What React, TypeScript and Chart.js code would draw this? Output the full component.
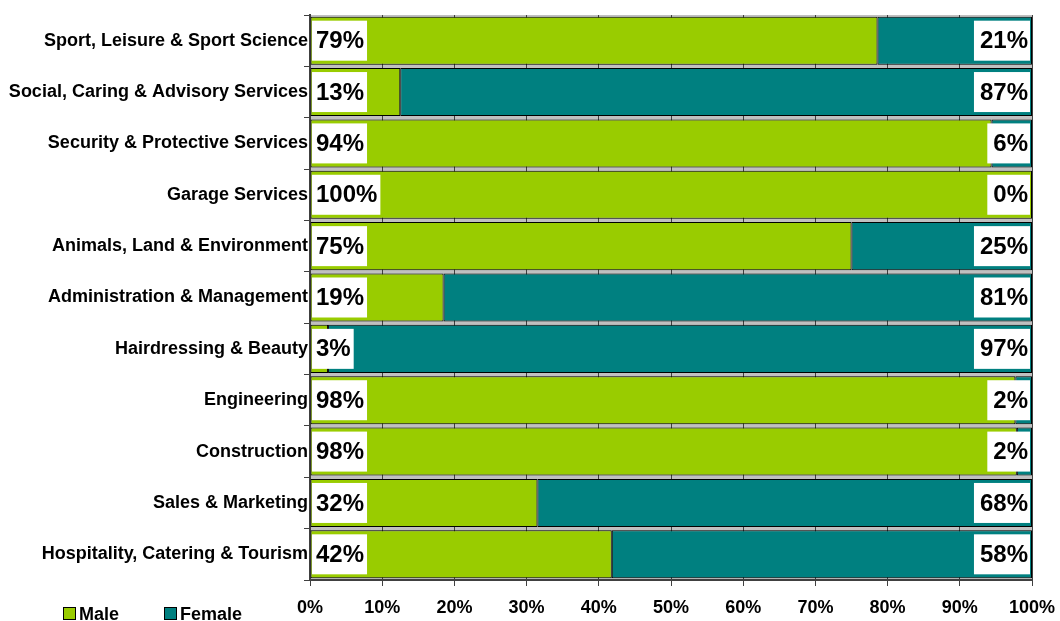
import React, { useEffect, useRef } from "react";
import { Chart, registerables } from "chart.js";

Chart.register(...registerables);

const categories = [
  "Sport, Leisure & Sport Science",
  "Social, Caring & Advisory Services",
  "Security & Protective Services",
  "Garage Services",
  "Animals, Land & Environment",
  "Administration & Management",
  "Hairdressing & Beauty",
  "Engineering",
  "Construction",
  "Sales & Marketing",
  "Hospitality, Catering & Tourism",
];

const maleValues = [78.6, 12.5, 94.4, 100, 75.0, 18.5, 2.5, 97.7, 97.9, 31.5, 41.8];
const femaleValues = [21.4, 87.5, 5.6, 0, 25.0, 81.5, 97.5, 2.3, 2.1, 68.5, 58.2];
const maleLabels = ["79%", "13%", "94%", "100%", "75%", "19%", "3%", "98%", "98%", "32%", "42%"];
const femaleLabels = ["21%", "87%", "6%", "0%", "25%", "81%", "97%", "2%", "2%", "68%", "58%"];
const xTicks = [0, 10, 20, 30, 40, 50, 60, 70, 80, 90, 100];

const FONT = '"Liberation Sans", Arial, Helvetica, sans-serif';
const MALE_COLOR = "#99CC00";
const FEMALE_COLOR = "#008080";

const plotBgPlugin = {
  id: "plotBg",
  beforeDraw(chart: any) {
    const { ctx, chartArea } = chart;
    ctx.save();
    ctx.fillStyle = "#C0C0C0";
    ctx.fillRect(chartArea.left, chartArea.top, chartArea.right - chartArea.left, chartArea.bottom - chartArea.top);
    ctx.restore();
  },
};

const valueLabelPlugin = {
  id: "valueLabels",
  afterDatasetsDraw(chart: any) {
    const { ctx, chartArea } = chart;
    ctx.save();
    ctx.font = `bold 24px ${FONT}`;
    ctx.textBaseline = "middle";
    const maleMeta = chart.getDatasetMeta(0);
    maleMeta.data.forEach((bar: any, i: number) => {
      const y = bar.y;
      const text = maleLabels[i];
      const w = ctx.measureText(text).width;
      const x0 = chartArea.left + 2;
      ctx.fillStyle = "#FFFFFF";
      ctx.fillRect(x0, y - 20, w + 7, 40);
      ctx.fillStyle = "#000000";
      ctx.textAlign = "left";
      ctx.fillText(text, x0 + 4, y + 1);
    });
    const femMeta = chart.getDatasetMeta(1);
    femMeta.data.forEach((bar: any, i: number) => {
      const y = bar.y;
      const text = femaleLabels[i];
      const w = ctx.measureText(text).width;
      const x1 = chartArea.right - 2;
      ctx.fillStyle = "#FFFFFF";
      ctx.fillRect(x1 - w - 8, y - 20, w + 8, 40);
      ctx.fillStyle = "#000000";
      ctx.textAlign = "right";
      ctx.fillText(text, x1 - 2, y + 1);
    });
    ctx.restore();
  },
};

const legendPlugin = {
  id: "customLegend",
  afterDraw(chart: any) {
    const { ctx } = chart;
    const items = [
      { label: "Male", color: MALE_COLOR, x: 63 },
      { label: "Female", color: FEMALE_COLOR, x: 164 },
    ];
    ctx.save();
    ctx.font = `bold 18px ${FONT}`;
    ctx.textBaseline = "middle";
    ctx.textAlign = "left";
    items.forEach((it) => {
      ctx.fillStyle = it.color;
      ctx.fillRect(it.x, 607, 12, 12);
      ctx.strokeStyle = "#000000";
      ctx.lineWidth = 1;
      ctx.strokeRect(it.x + 0.5, 607.5, 12, 12);
      ctx.fillStyle = "#000000";
      ctx.fillText(it.label, it.x + 16, 615);
    });
    ctx.restore();
  },
};

export default function App() {
  const canvasRef = useRef<HTMLCanvasElement | null>(null);

  useEffect(() => {
    document.body.style.margin = "0";
    const canvas = canvasRef.current;
    if (!canvas) return;
    const chart = new Chart(canvas, {
      type: "bar",
      data: {
        labels: categories,
        datasets: [
          {
            label: "Male",
            data: maleValues,
            backgroundColor: MALE_COLOR,
            borderColor: "#000000",
            borderWidth: 1,
            borderSkipped: false,
            barPercentage: 0.935,
            categoryPercentage: 1,
          },
          {
            label: "Female",
            data: femaleValues,
            backgroundColor: FEMALE_COLOR,
            borderColor: "#000000",
            borderWidth: 1,
            borderSkipped: false,
            barPercentage: 0.935,
            categoryPercentage: 1,
          },
        ],
      },
      options: {
        indexAxis: "y",
        animation: false,
        responsive: false,
        devicePixelRatio: 1,
        layout: { padding: { top: 15, right: 28, left: 0, bottom: 0 } },
        plugins: {
          legend: { display: false },
          tooltip: { enabled: false },
        },
        scales: {
          x: {
            stacked: true,
            min: 0,
            max: 100,
            afterBuildTicks(scale: any) {
              scale.ticks = xTicks.map((v) => ({ value: v }));
            },
            afterFit(scale: any) {
              scale.height = 41;
              scale.paddingLeft = 0;
              scale.paddingRight = 0;
            },
            ticks: {
              callback: (v: any) => `${v}%`,
              color: "#000000",
              font: { family: FONT, size: 18, weight: "bold" },
              padding: 11,
              maxRotation: 0,
              autoSkip: false,
            },
            grid: {
              color: "#404040",
              lineWidth: 1,
              drawTicks: true,
              tickLength: 6,
              tickColor: "#404040",
            },
            border: { color: "#404040", width: 2 },
          },
          y: {
            stacked: true,
            afterFit(scale: any) {
              scale.width = 310;
              scale.paddingTop = 0;
              scale.paddingBottom = 0;
            },
            ticks: {
              color: "#000000",
              font: { family: FONT, size: 18, weight: "bold" },
              padding: -4,
              autoSkip: false,
            },
            grid: {
              offset: true,
              drawOnChartArea: false,
              drawTicks: true,
              tickLength: 6,
              tickColor: "#404040",
            },
            border: { color: "#404040", width: 2 },
          },
        },
      },
      plugins: [plotBgPlugin, valueLabelPlugin, legendPlugin],
    } as any);
    return () => chart.destroy();
  }, []);

  return (
    <div style={{ position: "absolute", left: 0, top: 0, width: 1060, height: 621 }}>
      <canvas ref={canvasRef} width={1060} height={621} style={{ display: "block" }} />
    </div>
  );
}
